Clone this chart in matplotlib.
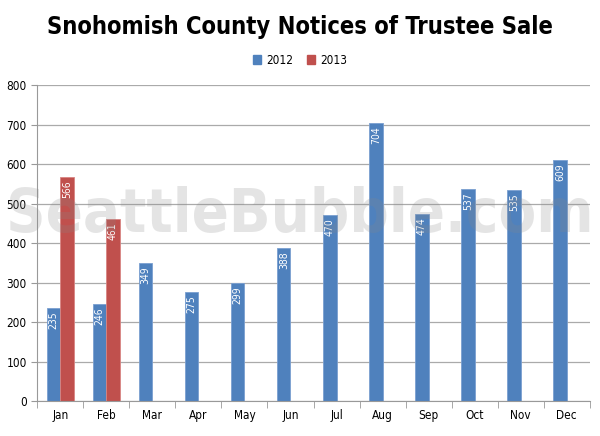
import numpy as np
import matplotlib.pyplot as plt

months = ["Jan", "Feb", "Mar", "Apr", "May", "Jun", "Jul", "Aug", "Sep", "Oct", "Nov", "Dec"]
sales_2012 = [235, 246, 349, 275, 299, 388, 470, 704, 474, 537, 535, 609]
sales_2013 = [566, 461, None, None, None, None, None, None, None, None, None, None]

blue = "#4F81BD"
red = "#C0504D"
font = "DejaVu Sans"
st = "condensed"

fig = plt.figure(figsize=(6, 4.36), dpi=100)
ax = fig.add_axes([0.062, 0.080, 0.921, 0.725])

x = np.arange(len(months))
w = 0.29
for i in range(len(months)):
    ax.bar(x[i] - w / 2, sales_2012[i], w, color=blue, edgecolor="#7a9fd0", linewidth=0.6, zorder=2)
    ax.text(x[i] - w / 2, sales_2012[i] - 8, str(sales_2012[i]), rotation=90, ha="center", va="top",
            color="white", fontsize=7.5, family=font, stretch=st, zorder=4)
    if sales_2013[i] is not None:
        ax.bar(x[i] + w / 2, sales_2013[i], w, color=red, edgecolor="#d88583", linewidth=0.6, zorder=2)
        ax.text(x[i] + w / 2, sales_2013[i] - 8, str(sales_2013[i]), rotation=90, ha="center", va="top",
                color="white", fontsize=7.5, family=font, stretch=st, zorder=4)

ax.set_xlim(-0.5, 11.5)
ax.set_ylim(0, 800)
ax.set_yticks(range(0, 801, 100))
ax.set_xticks(x)
ax.set_xticklabels(months, family=font, stretch=st, fontsize=8.5)
ax.set_xticks(np.arange(-0.5, 12, 1), minor=True)
ax.tick_params(axis="x", which="major", length=0, pad=6)
ax.tick_params(axis="x", which="minor", length=5, color="#999999")
ax.tick_params(axis="y", length=4, color="#999999", labelsize=8.5)
for lab in ax.get_yticklabels():
    lab.set_family(font)
    lab.set_stretch(st)
ax.grid(axis="y", color="#aaaaaa", linewidth=0.9, zorder=0)
ax.set_axisbelow(True)
for s in ["top", "right"]:
    ax.spines[s].set_visible(False)
ax.spines["left"].set_color("#999999")
ax.spines["bottom"].set_color("#999999")

fig.text(0.5, 0.937, "Snohomish County Notices of Trustee Sale", ha="center", va="center",
         fontsize=17, family=font, stretch=st, weight="bold")
h1 = plt.Rectangle((0, 0), 1, 1, color=blue)
h2 = plt.Rectangle((0, 0), 1, 1, color=red)
fig.legend([h1, h2], ["2012", "2013"], loc="center", bbox_to_anchor=(0.5, 0.862), ncol=2, frameon=False,
           prop={"family": font, "stretch": st, "size": 8.5}, handlelength=0.7, handleheight=0.7,
           handletextpad=0.4, columnspacing=1.2)

# watermark
fig.text(0.5, 0.505, "SeattleBubble.com", ha="center", va="center", fontsize=44, weight="bold",
         family=font, stretch=st, color="#888888", alpha=0.22, zorder=10)

fig.savefig("out.png")
